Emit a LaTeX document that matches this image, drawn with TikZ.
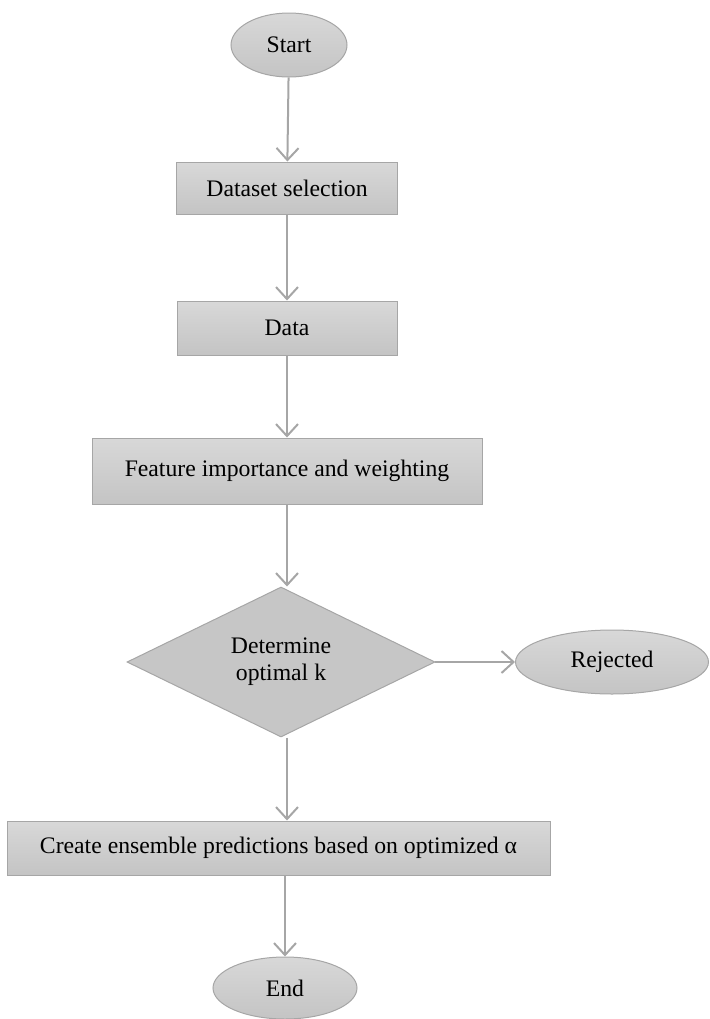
\documentclass[tikz,border=0pt]{standalone}
\usepackage{fontspec}
\setmainfont{Liberation Serif}
\usepackage{tikz}
\usetikzlibrary{shapes.geometric, arrows.meta, positioning, calc}

\definecolor{boxtop}{HTML}{D8D8D8}
\definecolor{boxbottom}{HTML}{C4C4C4}
\definecolor{boxline}{HTML}{A6A6A6}
\definecolor{arrowgray}{HTML}{A6A6A6}

\begin{document}
\begin{tikzpicture}[x=0.5pt, y=-0.5pt,
  every node/.style={font=\fontsize{11.85}{13.5}\selectfont, text=black},
  terminal/.style={ellipse, draw=boxline, line width=0.5pt, top color=boxtop, bottom color=boxbottom, inner sep=0pt},
  process/.style={rectangle, draw=boxline, line width=0.5pt, top color=boxtop, bottom color=boxbottom, inner sep=0pt},
  decision/.style={diamond, aspect=2, draw=boxline, line width=0.5pt, fill=boxbottom!90!boxtop, inner sep=0pt, align=center},
  flow/.style={draw=arrowgray, line width=1pt, -{Straight Barb[length=6pt, width=11pt]}}]
\useasboundingbox (0,0) rectangle (710,1019);

\node (start) [terminal, minimum width=58pt, minimum height=32pt] at (289,45) {Start};
\node (dataset) [process, minimum width=110.5pt, minimum height=26pt] at (287,188) {Dataset selection};
\node (data) [process, minimum width=110pt, minimum height=27pt] at (287,328) {Data};
\node (feature) [process, minimum width=195pt, minimum height=33pt] at (287,471) {Feature importance and weighting};
\node (optk) [decision, minimum width=154pt, minimum height=75pt] at (281,662) {Determine\\optimal k};
\node (rejected) [terminal, minimum width=96.5pt, minimum height=32pt] at (612,662) {Rejected};
\node (ensemble) [process, minimum width=271.5pt, minimum height=27pt] at (278.5,848) {Create ensemble predictions based on optimized α};
\node (end) [terminal, minimum width=72pt, minimum height=31pt] at (285,988) {End};

\draw [flow] (start) -- (dataset);
\draw [flow] (dataset) -- (data);
\draw [flow] (data) -- (feature.north -| data);
\draw [flow] (feature.south -| data) -- (optk.north -| data);
\draw [flow] (optk) -- (rejected);
\draw [flow] (optk.south -| data) -- (ensemble.north -| data);
\draw [flow] (ensemble.south -| end) -- (end);
\end{tikzpicture}
\end{document}
